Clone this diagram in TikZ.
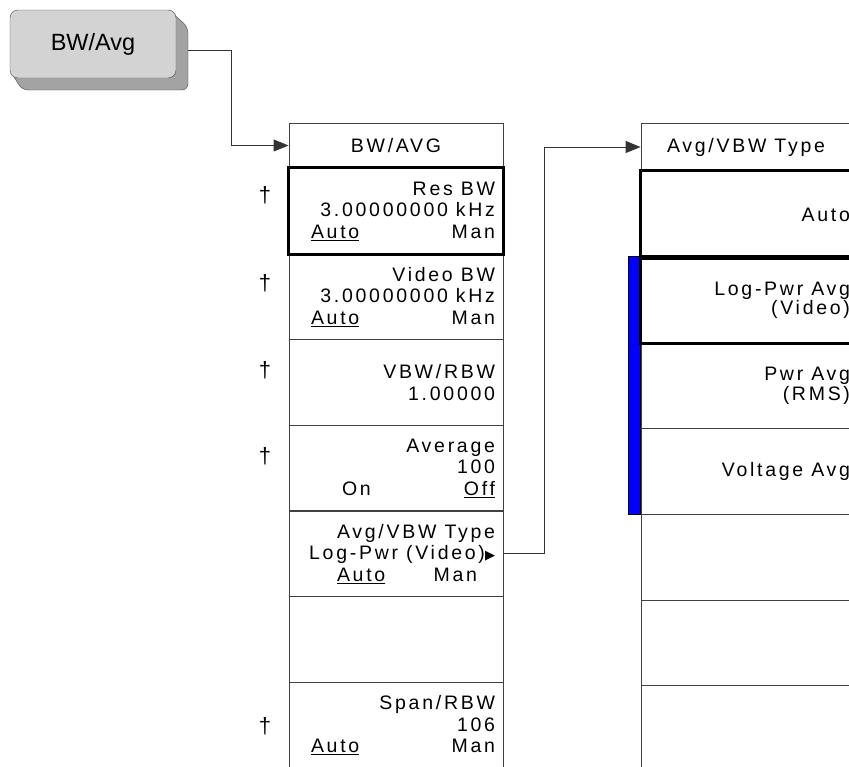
\documentclass[tikz,border=0pt]{standalone}
\usepackage{fontspec}
\setmainfont{Liberation Sans}
\newfontfamily\menufont{Liberation Sans}[LetterSpace=14]
\newfontfamily\symfont{DejaVu Sans}
\usetikzlibrary{arrows.meta,calc}
\definecolor{keygray}{RGB}{211,211,211}
\definecolor{keyshade}{RGB}{163,163,163}
\definecolor{selblue}{RGB}{0,0,255}
\newcommand{\mfont}{\menufont\fontsize{19.5}{21.5}\selectfont}
\newcommand{\pfont}{\menufont\fontsize{19.5}{17.5}\selectfont}
\newcommand{\gap}{\hspace{8pt}}

\begin{document}
\begin{tikzpicture}[x=1pt, y=-1pt,
  every node/.style={font=\mfont},
  key/.style={draw=black!70, fill=keygray, rounded corners=8pt,
              minimum width=166pt, minimum height=68pt, inner sep=0pt,
              font=\fontsize{23.5}{26}\selectfont},
  keyback/.style={draw=black!70, fill=keyshade, rounded corners=6pt},
  mrow/.style={draw=black!75, line width=0.9pt, minimum height=85.75pt,
               inner sep=0pt, align=right, text width=198pt},
  m1/.style={mrow, minimum width=214pt},
  m2/.style={mrow, minimum width=220pt, font=\pfont},
  sel/.style={draw=black, line width=2.6pt},
  link/.style={draw=black!80, line width=0.9pt},
  arrow/.style={link, -{Triangle[length=15pt, width=12pt]}},
  dag/.style={font=\fontsize{22}{24}\selectfont},
]
\useasboundingbox (0,0) rectangle (849,766);

%% Hardkey
\draw[keyback] (170,11) -- (188,27) -- (188,90) -- (22,90) -- (11,72) -- cycle;
\node[key] (bwkey) at (93,44) {BW/Avg};

%% Menu 1
\node[m1, minimum height=45pt, align=center] (m1t) at (396,145.5) {BW/AVG};
\node[m1] (m1r1) at (396,211)
  {Res\gap BW\\3.00000000\gap kHz\\\makebox[184pt]{\underline{Auto}\hfill Man}};
\node[m1] (m1r2) at (396,296.7)
  {Video\gap BW\\3.00000000\gap kHz\\\makebox[184pt]{\underline{Auto}\hfill Man}};
\node[m1] (m1r3) at (396,382.4) {VBW/RBW\\1.00000};
\node[m1] (m1r4) at (396,468.1)
  {Average\\100\\\makebox[153pt]{On\hfill\underline{Off}}};
\node[m1] (m1r5) at (396,553.8)
  {Avg/VBW\gap Type\hspace*{-5pt}\\
   Log-Pwr\gap (Video){\symfont\fontsize{13}{13}\selectfont ▶}\hspace*{-4pt}\\
   \makebox[158pt]{\underline{Auto}\hfill Man\hspace*{18pt}}\hspace*{-5pt}};
\node[m1] (m1r6) at (396,639.5) {};
\node[m1] (m1r7) at (396,725.2)
  {Span/RBW\\106\\\makebox[184pt]{\underline{Auto}\hfill Man}};

%% Daggers
\foreach \n/\y in {1/195, 2/283, 3/370, 4/456, 5/726}
  \node[dag] (dag\n) at (265,\y) {†};

%% Menu 2
\node[m2, minimum height=48pt, align=left] (m2t) at (751,147)
  {\hspace*{15pt}Avg/VBW\gap Type};
\node[m2, minimum height=87pt] (m2r1) at (751,214.5) {Auto};
\node[m2] (m2r2) at (751,300) {Log-Pwr\gap Avg\\(Video)};
\node[m2] (m2r3) at (751,385.8) {Pwr\gap Avg\\(RMS)};
\node[m2] (m2r4) at (751,471.5) {Voltage\gap Avg};
\node[m2] (m2r5) at (751,557.2) {};
\node[m2] (m2r6) at (751,643) {};
\node[m2] (m2r7) at (751,728.7) {};

%% Selection marks
\draw[draw=black, line width=0.8pt, fill=selblue]
  ($(m2r2.north west)+(-12,0)$) rectangle (m2r4.south west);
\foreach \r in {m1r1, m2r1, m2r2}
  \draw[sel] (\r.north west) rectangle (\r.south east);

%% Connectors
\coordinate (keyout) at ($(bwkey.east)+(12,6)$);
\draw[arrow] (keyout) -- ++(43,0) |- (m1t.west);
\draw[arrow] (m1r5.east) -- ++(41,0) |- (m2t.west);

\end{tikzpicture}
\end{document}
